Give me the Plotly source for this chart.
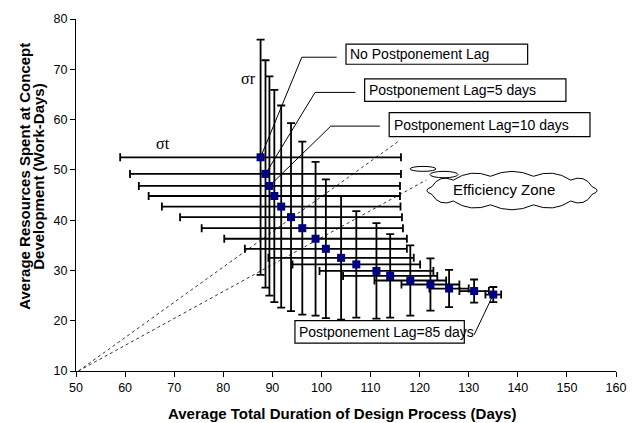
import math
import plotly.graph_objects as go

# Postponement lag (days) for each simulated scenario
lag_days = list(range(0, 90, 5))
# Mean total duration of the design process (days)
duration = [87.6, 88.6, 89.4, 90.4, 91.8, 93.8, 96.1, 98.8, 100.9, 104.0,
            107.1, 111.2, 114.0, 118.1, 122.2, 126.0, 131.1, 135.0]
# Mean resources spent at concept development (work-days)
resources = [52.5, 49.2, 46.8, 44.8, 42.7, 40.6, 38.4, 36.3, 34.3, 32.5,
             31.2, 29.9, 28.9, 28.0, 27.2, 26.4, 25.9, 25.2]
# Standard deviations (duration -> sigma t, resources -> sigma r)
sigma_t = [28.6, 27.6, 26.6, 25.6, 24.3, 22.6, 20.5, 18.6, 16.5, 14.8,
           13.0, 11.6, 9.6, 7.3, 5.9, 4.0, 3.0, 1.6]
sigma_r = [23.4, 22.6, 21.8, 21.1, 20.1, 18.7, 17.2, 15.3, 13.8, 12.3,
           10.6, 9.5, 8.3, 7.0, 5.2, 3.7, 2.3, 1.5]

x_ticks = list(range(50, 161, 10))
y_ticks = list(range(10, 81, 10))

callout_text = ["No Postponement Lag", "Postponement Lag=5 days",
                "Postponement Lag=10 days", "Postponement Lag=85 days"]
callout_lag = [0, 5, 10, 85]

FONT = "Arial, 'Liberation Sans', sans-serif"
SERIF = "'Liberation Serif', 'Times New Roman', serif"
W, H = 639, 423
ML, MR, MT, MB = 76, 23, 14, 52
XR = (50, 160)
YR = (10, 80)


def px_x(px):
    return XR[0] + (px - ML) * (XR[1] - XR[0]) / (W - ML - MR)


def px_y(py):
    return YR[0] + (H - MB - py) * (YR[1] - YR[0]) / (H - MT - MB)


def paper_x(px):
    return (px - ML) / (W - ML - MR)


def paper_y(py):
    return (H - MB - py) / (H - MT - MB)


fig = go.Figure()

fig.add_trace(go.Scatter(
    x=duration, y=resources, mode="markers",
    marker=dict(symbol="square", size=8, color="#000080"),
    error_x=dict(type="data", array=sigma_t, symmetric=True,
                 color="black", thickness=1.8, width=4),
    error_y=dict(type="data", array=sigma_r, symmetric=True,
                 color="black", thickness=1.8, width=4),
    showlegend=False, hoverinfo="skip",
))

shapes = []
annotations = []

# dotted efficiency-zone boundaries from the origin
for x_end, y_end in [(116.0, 55.9), (121.4, 48.0)]:
    shapes.append(dict(type="line", xref="x", yref="y", x0=50.5, y0=10,
                       x1=x_end, y1=y_end, layer="below",
                       line=dict(color="#333333", width=1, dash="dot")))

# callout boxes with leader lines
boxes = [
    dict(x0=105.0, x1=142.0, y0=71.0, y1=75.0, lead=[(103.1, 72.4), (96.0, 72.4)]),
    dict(x0=108.8, x1=149.8, y0=63.6, y1=68.1, lead=[(106.9, 65.4), (98.7, 65.4)]),
    dict(x0=113.8, x1=154.7, y0=56.6, y1=61.4, lead=[(111.9, 58.7), (101.9, 58.7)]),
    dict(x0=94.6, x1=129.1, y0=15.55, y1=20.0, lead=[(131.1, 17.2)]),
]
for text, lag, b in zip(callout_text, callout_lag, boxes):
    i = lag_days.index(lag)
    pts = b["lead"] + [(duration[i], resources[i])]
    path = "M " + " L ".join(f"{px},{py}" for px, py in pts)
    shapes.append(dict(type="path", xref="x", yref="y", path=path,
                       layer="below", line=dict(color="black", width=1)))
    shapes.append(dict(type="rect", xref="x", yref="y", x0=b["x0"], x1=b["x1"],
                       y0=b["y0"], y1=b["y1"], fillcolor="white",
                       line=dict(color="black", width=1.2)))
    annotations.append(dict(xref="x", yref="y", x=b["x0"] + 0.5,
                            y=(b["y0"] + b["y1"]) / 2, text=text,
                            showarrow=False, xanchor="left", yanchor="middle",
                            font=dict(family=FONT, size=14, color="black")))


# scalloped cloud outline, built in pixel space then mapped to data units
def cloud_path(cx, cy, rx, ry, n, bump):
    pts = []
    for k in range(n + 1):
        a = 2 * math.pi * (k + 0.5) / n
        pts.append((cx + rx * math.cos(a), cy + ry * math.sin(a)))
    d = f"M {px_x(pts[0][0])},{px_y(pts[0][1])}"
    for k in range(n):
        (ax, ay), (bx, by) = pts[k], pts[k + 1]
        mx, my = (ax + bx) / 2, (ay + by) / 2
        dx, dy = bx - ax, by - ay
        ln = math.hypot(dx, dy)
        nx, ny = dy / ln, -dx / ln
        cx_, cy_ = mx + nx * bump, my + ny * bump
        d += f" Q {px_x(cx_)},{px_y(cy_)} {px_x(bx)},{px_y(by)}"
    return d + " Z"


shapes.append(dict(type="path", xref="x", yref="y",
                   path=cloud_path(512, 188, 83, 15, 12, 10),
                   fillcolor="white", line=dict(color="black", width=1)))
for (l, r, t, bt) in [(410, 436, 163.5, 168.5), (430, 458, 168.5, 175)]:
    shapes.append(dict(type="circle", xref="x", yref="y",
                       x0=px_x(l), x1=px_x(r), y0=px_y(bt), y1=px_y(t),
                       fillcolor="white", line=dict(color="black", width=1)))
annotations.append(dict(xref="x", yref="y", x=px_x(504), y=px_y(187),
                        text="Efficiency Zone", showarrow=False,
                        font=dict(family=FONT, size=15, color="black")))

# sigma labels
annotations.append(dict(xref="x", yref="y", x=px_x(248), y=px_y(74), text="σr",
                        showarrow=False, font=dict(family=SERIF, size=16, color="black")))
annotations.append(dict(xref="x", yref="y", x=px_x(163), y=px_y(140), text="σt",
                        showarrow=False, font=dict(family=SERIF, size=16, color="black")))

# axis titles
annotations.append(dict(xref="paper", yref="paper", x=paper_x(342), y=paper_y(414),
                        text="<b>Average Total Duration of Design Process (Days)</b>",
                        showarrow=False, xanchor="center", yanchor="middle",
                        font=dict(family=FONT, size=15, color="black")))
for txt, cx in [("Average Resources Spent at Concept", 25),
                ("Development (Work-Days)", 39)]:
    annotations.append(dict(xref="paper", yref="paper", x=paper_x(cx), y=paper_y(174),
                            text=f"<b>{txt}</b>", showarrow=False, textangle=-90,
                            xanchor="center", yanchor="middle",
                            font=dict(family=FONT, size=15, color="black")))

axis_common = dict(showgrid=False, zeroline=False, showline=True, linecolor="black",
                   linewidth=1, ticks="outside", ticklen=5, tickcolor="black",
                   tickwidth=1, tickfont=dict(family=FONT, size=12.5, color="black"))

fig.update_layout(
    width=W, height=H,
    margin=dict(l=ML, r=MR, t=MT, b=MB),
    paper_bgcolor="white", plot_bgcolor="white",
    xaxis=dict(range=list(XR), tickvals=x_ticks, **axis_common),
    yaxis=dict(range=list(YR), tickvals=y_ticks, **axis_common),
    shapes=shapes, annotations=annotations,
)

fig.write_html("out.html")
